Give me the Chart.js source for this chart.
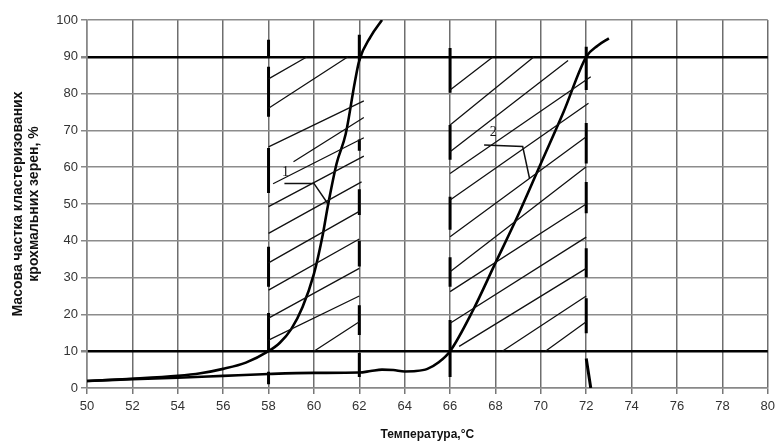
<!DOCTYPE html>
<html>
<head>
<meta charset="utf-8">
<script src="https://cdn.jsdelivr.net/npm/chart.js@4.4.0/dist/chart.umd.min.js"></script>
<style>
  body { margin: 0; background: #fff; }
</style>
</head>
<body>
<canvas id="chart" width="780" height="445"></canvas>
<script>
// curve 1 (upper S-curve)
const curve1Temp = [50, 52, 54, 55, 56, 57, 58, 58.5, 59, 59.5, 60, 60.4, 60.6, 61, 61.4, 61.8, 62, 62.5, 63];
const curve1Mass = [1.9, 2.5, 3.3, 4, 5.2, 6.9, 10, 12.3, 16, 22, 31, 42, 49, 61, 69, 83, 89, 95.5, 100];

// curve 2 (lower line, then rise between 66 and 72)
const curve2Temp = [50, 52, 54, 56, 58, 60, 62, 62.5, 63, 63.5, 64, 64.5, 65, 65.5, 66, 67, 68, 69, 70, 71, 72, 72.5, 73];
const curve2Mass = [1.9, 2.4, 2.8, 3.3, 3.8, 4.1, 4.2, 4.6, 5, 4.9, 4.5, 4.6, 5.2, 7, 10, 21, 34, 47, 61, 75, 90, 93, 95];

// hatch strokes [t1, m1, t2, m2]
const hatchZone1 = [
  [58, 84, 59.7, 90], [58, 76, 61.5, 90], [58, 65.5, 62.2, 78], [59.1, 61.5, 62.2, 73.5],
  [58.2, 55.5, 62.2, 68], [58, 49.3, 62.2, 63], [58, 42, 62.1, 56], [58, 34, 62, 48],
  [58, 26.6, 62, 40.5], [58, 19, 62, 32.5], [58, 13, 62, 25], [60, 10, 62, 18]
];
const hatchZone2 = [
  [66, 81, 67.9, 90], [66, 71.5, 69.7, 90], [66, 64.2, 71.2, 89], [66, 58.3, 72.2, 84.6],
  [66, 51.1, 72.1, 77.4], [66, 41.1, 72, 68.3], [66, 31.6, 72, 60.1], [66, 26.2, 72, 50],
  [66, 17.6, 72, 41], [66.4, 11.3, 72, 32.5], [68.3, 10, 72, 25], [70.2, 10, 72, 18]
];

// dashed zone borders [t1, m1, t2, m2]
const borderDashes = [
  [58, 94.6, 58, 89.7], [58, 87.3, 58, 73.7], [58, 65.2, 58, 53], [58, 38.4, 58, 27.5], [58, 20.4, 58, 10], [58, 4.4, 58, 1],
  [62, 96, 62, 89], [62, 67.5, 62, 64.5], [62, 54, 62, 47], [62, 40, 62, 33], [62, 22.5, 62, 14.4], [62, 9.5, 62, 3],
  [66, 92.4, 66, 80.2], [66, 71.5, 66, 62], [66, 52, 66, 43], [66, 35.5, 66, 27.5], [66, 18.5, 66, 3],
  [72, 92.7, 72, 81], [72, 72, 72, 61], [72, 56, 72, 47.5], [72, 38, 72, 30], [72, 24.4, 72, 14.9], [72, 8, 72.2, 0]
];

// callout leaders and labels
const leader1 = [[58.7, 55.6], [60, 55.6], [60.6, 50.2]];
const leader2 = [[67.5, 66], [69.2, 65.6], [69.5, 57]];
const calloutText = ['1', '2'];
const calloutPos = [[58.75, 58.5], [67.9, 69.5]];

const xTitle = 'Температура,°С';
const yTitle = ['Масова частка кластеризованих', 'крохмальних зерен, %'];

function toPoints(xs, ys) {
  return xs.map((x, i) => ({ x: x, y: ys[i] }));
}
function segPoints(segs) {
  const pts = [];
  segs.forEach(s => {
    pts.push({ x: s[0], y: s[1] }, { x: s[2], y: s[3] }, { x: s[2], y: null });
  });
  return pts;
}

const calloutPlugin = {
  id: 'callouts',
  afterDatasetsDraw(chart) {
    const { ctx, scales: { x, y } } = chart;
    ctx.save();
    ctx.fillStyle = '#111';
    ctx.font = '14px "Liberation Serif"';
    ctx.textAlign = 'center';
    ctx.textBaseline = 'middle';
    calloutText.forEach((t, i) => {
      ctx.fillText(t, x.getPixelForValue(calloutPos[i][0]), y.getPixelForValue(calloutPos[i][1]));
    });
    ctx.restore();
  }
};

const thick = v => v === 10 || v === 90;

new Chart(document.getElementById('chart').getContext('2d'), {
  type: 'line',
  data: {
    datasets: [
      { data: segPoints(hatchZone1), borderColor: '#111', borderWidth: 1.3, pointRadius: 0, spanGaps: false },
      { data: segPoints(hatchZone2), borderColor: '#111', borderWidth: 1.3, pointRadius: 0, spanGaps: false },
      { data: segPoints(borderDashes), borderColor: '#000', borderWidth: 3, pointRadius: 0, spanGaps: false },
      { data: leader1.map(p => ({ x: p[0], y: p[1] })), borderColor: '#111', borderWidth: 1.5, pointRadius: 0 },
      { data: leader2.map(p => ({ x: p[0], y: p[1] })), borderColor: '#111', borderWidth: 1.5, pointRadius: 0 },
      { data: toPoints(curve1Temp, curve1Mass), borderColor: '#000', borderWidth: 2.6, pointRadius: 0, cubicInterpolationMode: 'monotone' },
      { data: toPoints(curve2Temp, curve2Mass), borderColor: '#000', borderWidth: 2.6, pointRadius: 0, cubicInterpolationMode: 'monotone' }
    ]
  },
  options: {
    responsive: false,
    animation: false,
    devicePixelRatio: 1,
    layout: { padding: { top: 20, right: 7, left: 0, bottom: 0 } },
    plugins: { legend: { display: false }, tooltip: { enabled: false } },
    scales: {
      x: {
        type: 'linear',
        min: 50, max: 80,
        afterFit: s => { s.height = 57; },
        ticks: { stepSize: 2, color: '#333', padding: 5, font: { family: '"Liberation Sans"', size: 13 } },
        grid: { color: '#6e6e6e', lineWidth: 1.5, tickLength: 6, tickColor: '#777' },
        border: { color: '#888', width: 1.5 },
        title: { display: true, text: xTitle, color: '#111', padding: { top: 0, bottom: 3 }, font: { family: '"Liberation Sans"', size: 12, weight: 'bold' } }
      },
      y: {
        min: 0, max: 100,
        afterFit: s => { s.width = 87; },
        ticks: { stepSize: 10, color: '#333', padding: 3, font: { family: '"Liberation Sans"', size: 13 } },
        grid: {
          color: c => thick(c.tick && c.tick.value) ? '#000' : '#8c8c8c',
          lineWidth: c => thick(c.tick && c.tick.value) ? 2.5 : 1.5,
          tickLength: 6,
          tickColor: '#888'
        },
        border: { color: '#888', width: 1.5 },
        title: { display: true, text: yTitle, color: '#111', padding: { top: 10, bottom: 0 }, font: { family: '"Liberation Sans"', size: 14, weight: 'bold', lineHeight: 1.15 } }
      }
    }
  },
  plugins: [calloutPlugin]
});
</script>
</body>
</html>
